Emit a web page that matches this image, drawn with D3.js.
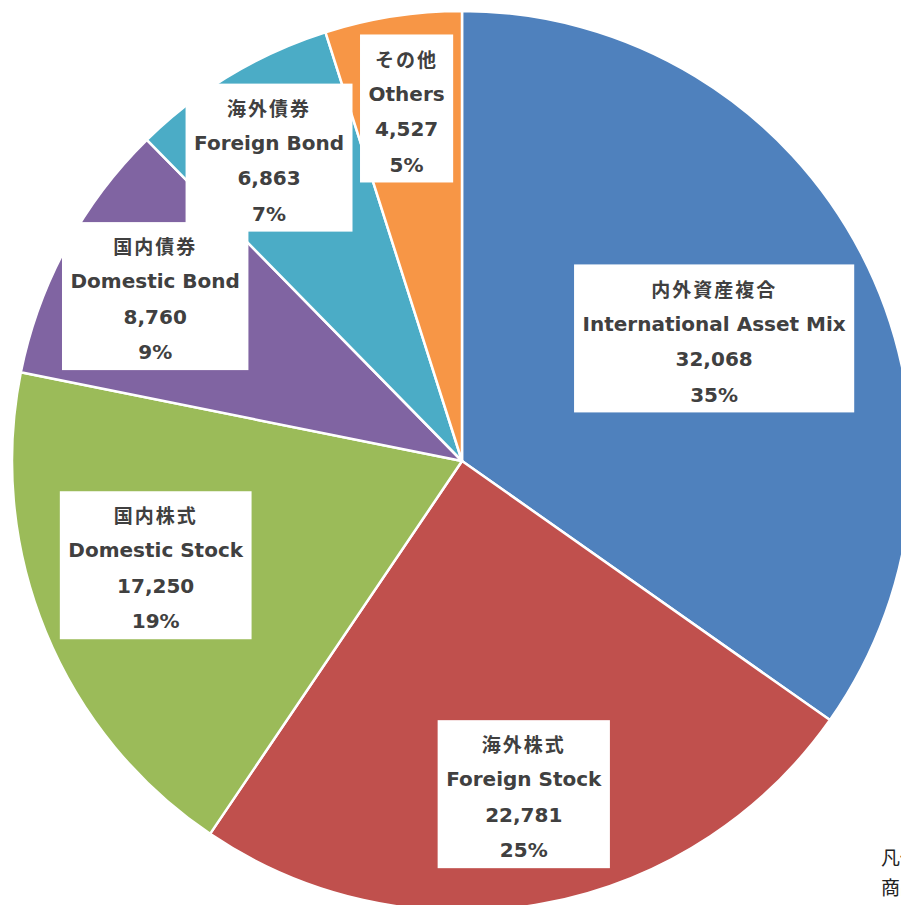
<!DOCTYPE html>
<html>
<head>
<meta charset="utf-8">
<script src="https://cdn.jsdelivr.net/npm/d3@7"></script>
<style>
  body { margin: 0; background: #fff; }
  svg { display: block; }
</style>
</head>
<body>
<div id="chart"></div>
<script>
// asset classes, clockwise from 12 o'clock
var namesJa = ['内外資産複合', '海外株式', '国内株式', '国内債券', '海外債券', 'その他'];
var namesEn = ['International Asset Mix', 'Foreign Stock', 'Domestic Stock', 'Domestic Bond', 'Foreign Bond', 'Others'];
var values = [32068, 22781, 17250, 8760, 6863, 4527];
var colors = ['#4f81bd', '#c0504d', '#9bbb59', '#8064a2', '#4bacc6', '#f79646'];

// label placement (fraction of radius, angle nudge in degrees)
var labelR = [0.623, 0.753, 0.719, 0.774, 0.799, 0.793];
var labelNudge = [1.5, -0.1, 3.5, -0.2, -1.4, -0.1];

var width = 901, height = 905;
var cx = 462, cy = 461, radius = 450;

var total = d3.sum(values);
var fmt = d3.format(',');

var svg = d3.select('#chart').append('svg')
  .attr('width', width)
  .attr('height', height);

var g = svg.append('g').attr('transform', 'translate(' + cx + ',' + cy + ')');

var pie = d3.pie().sort(null).value(d => d);
var arcs = pie(values);
var arc = d3.arc().innerRadius(0).outerRadius(radius);

g.selectAll('path.slice')
  .data(arcs)
  .enter().append('path')
  .attr('class', 'slice')
  .attr('d', arc)
  .attr('fill', (d, i) => colors[i])
  .attr('stroke', '#fff')
  .attr('stroke-width', 2.5)
  .attr('stroke-linejoin', 'round');

// labels
var lineH = 35.5;
arcs.forEach(function (d, i) {
  var a = (d.startAngle + d.endAngle) / 2 + labelNudge[i] * Math.PI / 180;
  var r = radius * labelR[i];
  var x = r * Math.sin(a), y = -r * Math.cos(a);

  var lab = g.append('g').attr('transform', 'translate(' + x + ',' + y + ')');
  var box = lab.append('rect').attr('fill', '#fff');

  var lines = [
    { t: namesJa[i], ja: true },
    { t: namesEn[i] },
    { t: fmt(values[i]) },
    { t: Math.round(values[i] / total * 100) + '%' }
  ];
  var maxW = 0;
  lines.forEach(function (l, k) {
    var t = lab.append('text')
      .attr('x', 0)
      .attr('y', 3 + (k - 1.5) * lineH)
      .attr('text-anchor', 'middle')
      .attr('dominant-baseline', 'central')
      .attr('fill', '#404040')
      .style('font-family', l.ja ? '"Noto Sans CJK JP", sans-serif' : '"DejaVu Sans", sans-serif')
      .style('font-weight', 'bold')
      .style('font-size', l.ja ? '19px' : '20px')
      .style('letter-spacing', l.ja ? '2px' : '0px')
      .text(l.t);
    maxW = Math.max(maxW, t.node().getComputedTextLength());
  });
  var bw = maxW + 17, bh = 148;
  box.attr('x', -bw / 2).attr('y', -bh / 2).attr('width', bw).attr('height', bh);
});

// cut-off text around the chart edges
svg.append('text')
  .attr('x', 194).attr('y', 921)
  .attr('text-anchor', 'end')
  .attr('fill', '#222')
  .style('font-family', '"DejaVu Sans", sans-serif')
  .style('font-size', '22px')
  .text('September 2021');

svg.append('text')
  .attr('x', 881).attr('y', 865)
  .attr('fill', '#222')
  .style('font-family', '"Noto Sans CJK JP", sans-serif')
  .style('font-size', '19px')
  .text('凡例');

svg.append('text')
  .attr('x', 881).attr('y', 895)
  .attr('fill', '#222')
  .style('font-family', '"Noto Sans CJK JP", sans-serif')
  .style('font-size', '19px')
  .text('商品');
</script>
</body>
</html>
